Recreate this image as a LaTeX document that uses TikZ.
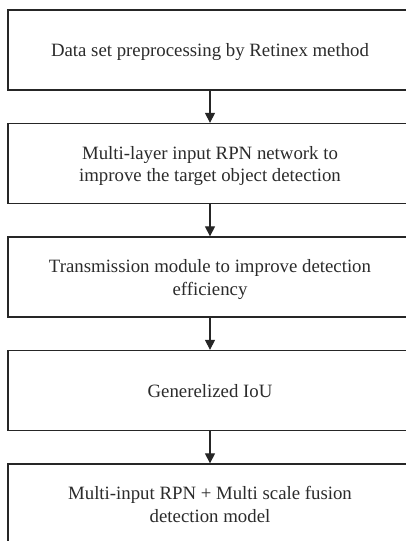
\documentclass[tikz,border=0pt]{standalone}
\usepackage{fontspec}
\setmainfont{Liberation Serif}
\usetikzlibrary{arrows.meta}
\definecolor{edge}{HTML}{262626}
\definecolor{ink}{HTML}{2B2B2B}
% every text line gets the same line box: 18pt above, 4.5pt below the baseline
\newcommand\lnstrut{\rule[-4.5pt]{0pt}{22.5pt}}
\tikzset{
  x=1pt, y=1pt,
  stagebox/.style={draw=edge, line width=1.3pt, rectangle,
    minimum width=404pt, minimum height=80pt, inner sep=0pt,
    align=center, text=ink, font=\fontsize{18.8}{22.5}\selectfont},
  flow/.style={draw=edge, line width=1.2pt,
    -{Triangle[width=10pt,length=10pt]}}
}
\begin{document}
\begin{tikzpicture}
  \useasboundingbox (0,0) rectangle (406,-541);
  \node[stagebox] (s1) at (210,-50)    {\lnstrut Data set preprocessing by Retinex method};
  \node[stagebox] (s2) at (210,-163.5) {\lnstrut Multi-layer input RPN network to\\\lnstrut improve the target object detection};
  \node[stagebox] (s3) at (210,-277)   {\lnstrut Transmission module to improve detection\\\lnstrut efficiency};
  \node[stagebox] (s4) at (210,-390.5) {\lnstrut Generelized IoU};
  \node[stagebox] (s5) at (210,-504)   {\lnstrut Multi-input RPN + Multi scale fusion\\\lnstrut detection model};
  \draw[flow] (s1) -- (s2);
  \draw[flow] (s2) -- (s3);
  \draw[flow] (s3) -- (s4);
  \draw[flow] (s4) -- (s5);
\end{tikzpicture}
\end{document}
